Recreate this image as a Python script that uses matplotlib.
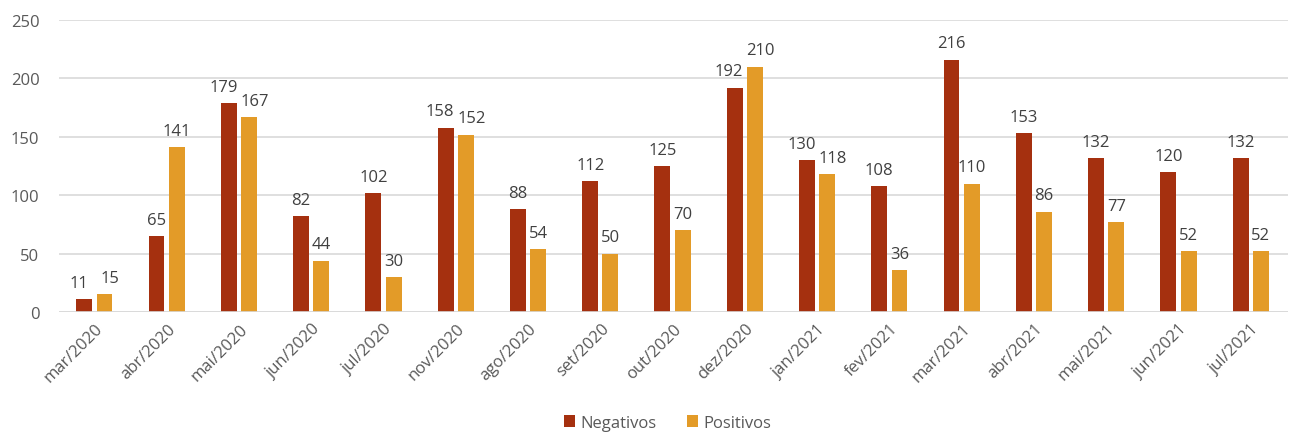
import numpy as np
import matplotlib.pyplot as plt

meses = ['mar/2020', 'abr/2020', 'mai/2020', 'jun/2020', 'jul/2020', 'nov/2020',
         'ago/2020', 'set/2020', 'out/2020', 'dez/2020', 'jan/2021', 'fev/2021',
         'mar/2021', 'abr/2021', 'mai/2021', 'jun/2021', 'jul/2021']
negativos = [11, 65, 179, 82, 102, 158, 88, 112, 125, 192, 130, 108, 216, 153, 132, 120, 132]
positivos = [15, 141, 167, 44, 30, 152, 54, 50, 70, 210, 118, 36, 110, 86, 77, 52, 52]

cor_neg = '#A5300F'
cor_pos = '#E39B28'
cinza = '#595959'

plt.rcParams['font.family'] = ['Open Sans', 'DejaVu Sans']

fig = plt.figure(figsize=(12.96, 4.39), dpi=100)
ax = fig.add_axes([0.0455, 0.287, 0.948, 0.665])

x = np.arange(len(meses))
w = 0.22
b1 = ax.bar(x - w / 2 - 0.04, negativos, w, color=cor_neg, label='Negativos')
b2 = ax.bar(x + w / 2 + 0.02, positivos, w, color=cor_pos, label='Positivos')

# rótulos de dados; afasta um pouco quando os valores são próximos
for i in range(len(meses)):
    perto = abs(negativos[i] - positivos[i]) < 25
    dx = 4 if perto else 0
    for r, sinal in ((b1[i], -1), (b2[i], 1)):
        ax.annotate(f'{int(r.get_height())}', (r.get_x() + r.get_width() / 2, r.get_height()),
                    xytext=(sinal * dx, 6), textcoords='offset points', ha='center', va='bottom',
                    fontsize=12, color='#404040')

ax.set_ylim(0, 250)
ax.set_xlim(-0.5, len(meses) - 0.5)
ax.set_yticks(range(0, 251, 50))
ax.yaxis.grid(True, color='#D9D9D9', linewidth=1.2)
ax.set_axisbelow(True)
for s in ax.spines.values():
    s.set_visible(False)
ax.tick_params(axis='both', length=0, colors=cinza, labelsize=12)
ax.tick_params(axis='y', pad=14)
ax.tick_params(axis='x', pad=6)
ax.set_xticks(x)
ax.set_xticklabels(meses, rotation=45, ha='right', rotation_mode='anchor')
ax.axhline(0, color='#D9D9D9', linewidth=1.2)

fig.legend(loc='lower center', bbox_to_anchor=(0.515, -0.018), ncol=2, frameon=False,
           fontsize=12, labelcolor=cinza, handlelength=0.7, handleheight=0.7,
           columnspacing=1.8, handletextpad=0.3)

fig.savefig('out.png', dpi=100)
